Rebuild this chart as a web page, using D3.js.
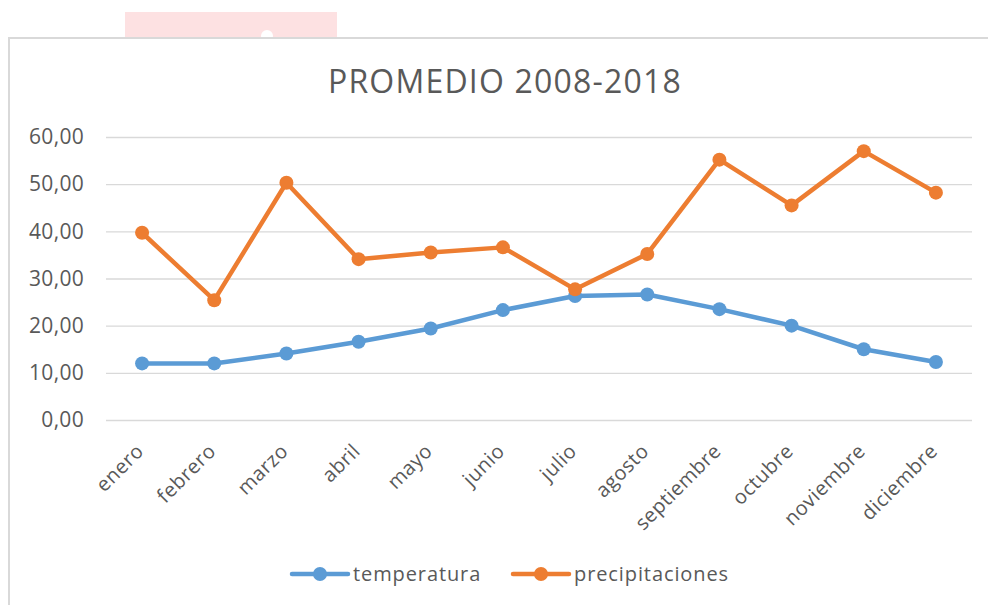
<!DOCTYPE html>
<html>
<head>
<meta charset="utf-8">
<script src="https://cdn.jsdelivr.net/npm/d3@7"></script>
<style>
  body { margin: 0; background: #fff; }
  svg { display: block; font-family: 'Open Sans', sans-serif; }
</style>
</head>
<body>
<div class="container"></div>
<script>
var months = ['enero', 'febrero', 'marzo', 'abril', 'mayo', 'junio', 'julio',
  'agosto', 'septiembre', 'octubre', 'noviembre', 'diciembre'];
var temperatura = [12.0, 12.0, 14.1, 16.6, 19.4, 23.3, 26.3, 26.6, 23.5, 20.0, 15.0, 12.3];
var precipitaciones = [39.7, 25.4, 50.3, 34.1, 35.5, 36.6, 27.7, 35.2, 55.2, 45.5, 57.0, 48.2];
var yTicks = [0, 10, 20, 30, 40, 50, 60];
var seriesNames = ['temperatura', 'precipitaciones'];

buildChart();

function buildChart() {

  /* ===== SET UP CHART =====*/

  var w = 988;
  var h = 605;
  var left = 106, right = 972, top = 137, bottom = 420;

  var svg = d3.select('.container')
    .append('svg')
    .attr('width', w)
    .attr('height', h);

  // bit of something sitting behind the chart frame
  svg.append('rect')
    .attr('x', 125).attr('y', 12)
    .attr('width', 212).attr('height', 30)
    .attr('fill', '#fde1e2');
  svg.append('circle')
    .attr('cx', 267).attr('cy', 36).attr('r', 6)
    .attr('fill', '#fff');

  // chart frame
  svg.append('rect')
    .attr('x', 9).attr('y', 38)
    .attr('width', 1000).attr('height', 600)
    .attr('fill', '#fff')
    .attr('stroke', '#d9d9d9')
    .attr('stroke-width', 2);

  var xScale = d3.scalePoint()
    .domain(months)
    .range([left, right])
    .padding(0.5);

  var yScale = d3.scaleLinear()
    .domain([0, 60])
    .range([bottom, top]);

  /* ===== TITLE =====*/

  svg.append('text')
    .attr('x', 505)
    .attr('y', 93)
    .attr('text-anchor', 'middle')
    .attr('font-size', '32px')
    .attr('letter-spacing', '1.2px')
    .attr('fill', '#595959')
    .text('PROMEDIO 2008-2018');

  /* ===== AXES =====*/

  var yAxis = d3.axisLeft()
    .scale(yScale)
    .tickValues(yTicks)
    .tickSize(-(right - left))
    .tickPadding(22)
    .tickFormat(function (d) { return d3.format('.2f')(d).replace('.', ','); });

  var gy = svg.append('g')
    .attr('transform', 'translate(' + left + ',0)')
    .call(yAxis);
  gy.select('.domain').remove();
  gy.selectAll('line').attr('stroke', '#d9d9d9').attr('stroke-width', 1.3);
  gy.selectAll('text')
    .attr('fill', '#595959')
    .style('font-size', '21px')
    .style('letter-spacing', '0.3px')
    .style('font-family', "'Open Sans', sans-serif");

  var xAxis = d3.axisBottom()
    .scale(xScale)
    .tickSize(0);

  var gx = svg.append('g')
    .attr('transform', 'translate(0,' + bottom + ')')
    .call(xAxis);
  gx.select('.domain').remove();
  gx.selectAll('text')
    .attr('fill', '#595959')
    .style('font-size', '20px')
    .style('letter-spacing', '0.5px')
    .style('font-family', "'Open Sans', sans-serif")
    .attr('text-anchor', 'end')
    .attr('dy', '0.3em')
    .attr('transform', 'translate(-4,26) rotate(-45)');

  /* ===== LINES =====*/

  var colors = ['#5b9bd5', '#ed7d31'];
  var seriesData = [temperatura, precipitaciones];

  var line = d3.line()
    .x(function (d, i) { return xScale(months[i]); })
    .y(function (d) { return yScale(d); });

  seriesData.forEach(function (values, s) {
    svg.append('path')
      .datum(values)
      .attr('d', line)
      .attr('fill', 'none')
      .attr('stroke', colors[s])
      .attr('stroke-width', 4.5)
      .attr('stroke-linejoin', 'round');

    svg.selectAll('.dot' + s)
      .data(values)
      .enter()
      .append('circle')
      .attr('class', 'dot' + s)
      .attr('cx', function (d, i) { return xScale(months[i]); })
      .attr('cy', function (d) { return yScale(d); })
      .attr('r', 7)
      .attr('fill', colors[s]);
  });

  /* ===== LEGEND =====*/

  var legendX = [292, 513];
  var legend = svg.selectAll('.legend')
    .data(seriesNames)
    .enter()
    .append('g')
    .attr('class', 'legend')
    .attr('transform', function (d, i) { return 'translate(' + legendX[i] + ',574)'; });

  legend.append('line')
    .attr('x1', 0).attr('x2', 56)
    .attr('stroke', function (d, i) { return colors[i]; })
    .attr('stroke-width', 4.5)
    .attr('stroke-linecap', 'round');
  legend.append('circle')
    .attr('cx', 28).attr('r', 7)
    .attr('fill', function (d, i) { return colors[i]; });
  legend.append('text')
    .attr('x', 61)
    .attr('dy', '0.35em')
    .attr('font-size', '20px')
    .attr('letter-spacing', '0.9px')
    .attr('fill', '#595959')
    .text(function (d) { return d; });
}
</script>
</body>
</html>
